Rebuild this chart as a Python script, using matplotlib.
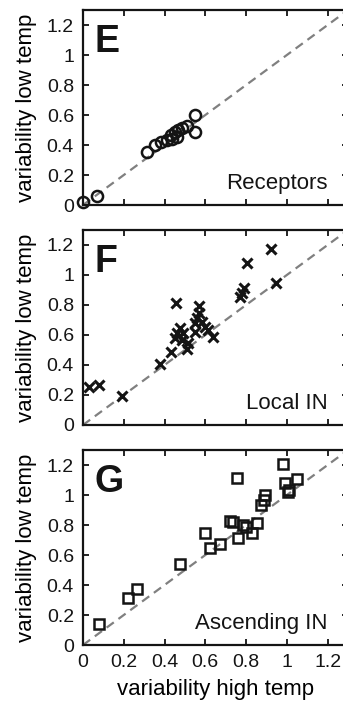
import matplotlib
matplotlib.use('Agg')
import matplotlib.pyplot as plt

plt.rcParams['font.family'] = ['Liberation Sans', 'DejaVu Sans']

# 温度变异性数据
rec_high = [0.0, 0.067, 0.313, 0.354, 0.383, 0.411, 0.432, 0.439, 0.452, 0.46, 0.468, 0.485, 0.509, 0.55, 0.55]
rec_low = [0.022, 0.062, 0.355, 0.40, 0.422, 0.433, 0.467, 0.438, 0.489, 0.451, 0.50, 0.511, 0.527, 0.60, 0.489]

loc_high = [0.03, 0.08, 0.19, 0.378, 0.431, 0.457, 0.452, 0.46, 0.476, 0.485, 0.493, 0.512, 0.517, 0.55,
            0.55, 0.558, 0.571, 0.571, 0.583, 0.599, 0.615, 0.637, 0.768, 0.78, 0.79, 0.804, 0.922, 0.945]
loc_low = [0.25, 0.265, 0.193, 0.405, 0.489, 0.815, 0.578, 0.611, 0.645, 0.567, 0.611, 0.505, 0.545, 0.622,
           0.678, 0.711, 0.745, 0.793, 0.689, 0.656, 0.633, 0.585, 0.855, 0.88, 0.915, 1.08, 1.175, 0.945]

asc_high = [0.08, 0.223, 0.264, 0.476, 0.599, 0.624, 0.67, 0.719, 0.738, 0.758, 0.755, 0.784, 0.80, 0.828,
            0.853, 0.873, 0.886, 0.894, 0.981, 0.992, 1.004, 1.013, 1.049]
asc_low = [0.14, 0.316, 0.373, 0.538, 0.749, 0.644, 0.673, 0.829, 0.822, 0.711, 1.115, 0.80, 0.789, 0.749,
           0.811, 0.933, 0.967, 1.0, 1.207, 1.078, 1.022, 1.033, 1.104]

ticks = [0, 0.2, 0.4, 0.6, 0.8, 1.0, 1.2]
tick_labels = ['0', '0.2', '0.4', '0.6', '0.8', '1', '1.2']

panels = [
    ('E', 'Receptors', rec_high, rec_low, dict(marker='o', ms=8, mew=1.8)),
    ('F', 'Local IN', loc_high, loc_low, dict(marker='x', ms=7, mew=2.2)),
    ('G', 'Ascending IN', asc_high, asc_low, dict(marker='s', ms=7.2, mew=1.8)),
]

fig = plt.figure(figsize=(3.43, 7.05), dpi=100)
bottoms = [0.7092, 0.3972, 0.0851]
ink = '#141414'

for i, (letter, name, xs, ys, mk) in enumerate(panels):
    ax = fig.add_axes([83 / 343, bottoms[i], 265 / 343, 195 / 705])
    ax.plot([0, 1.3], [0, 1.3], color='#808080', lw=1.6, dashes=(4, 2.6), zorder=1)
    ax.plot(xs, ys, linestyle='none', color=ink, mfc='none', mec=ink, zorder=3,
            clip_on=False, **mk)
    ax.set_xlim(0, 1.3)
    ax.set_ylim(0, 1.3)
    ax.set_xticks(ticks)
    ax.set_yticks(ticks)
    ax.set_yticklabels(tick_labels)
    if i == 2:
        ax.set_xticklabels(tick_labels)
        ax.set_xlabel('variability high temp', fontsize=16, labelpad=6)
    else:
        ax.set_xticklabels([])
    ax.set_ylabel('variability low temp', fontsize=16, labelpad=7)
    ax.tick_params(direction='in', top=True, right=True, length=4, width=1.3,
                   labelsize=14, pad=6.5, color=ink, labelcolor=ink)
    for s in ax.spines.values():
        s.set_linewidth(1.6)
        s.set_color(ink)
    ax.text(0.054, 1.02, letter, fontsize=27, fontweight='bold', color=ink,
            ha='left', va='baseline')
    ax.text(1.2, 0.105, name, fontsize=16, color=ink, ha='right', va='baseline')

fig.savefig('out.png', dpi=100)
